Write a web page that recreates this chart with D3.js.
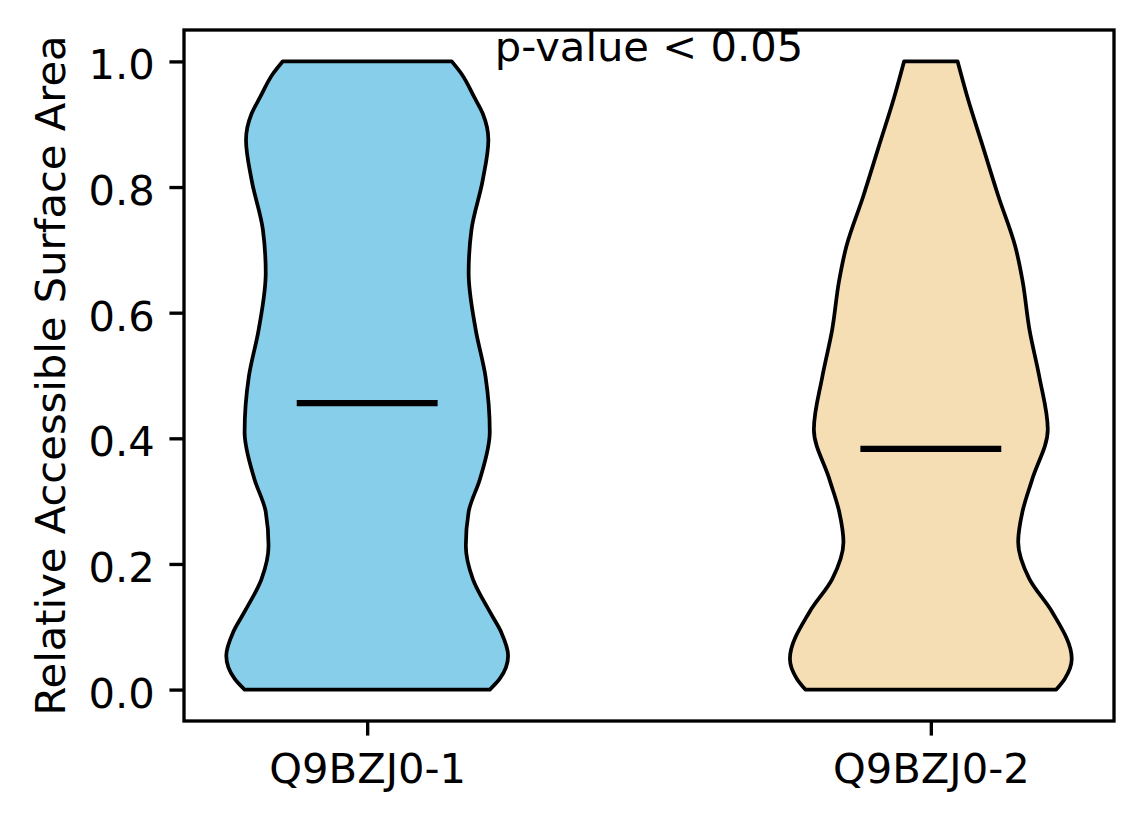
<!DOCTYPE html>
<html>
<head>
<meta charset="utf-8">
<script src="https://cdn.jsdelivr.net/npm/d3@7"></script>
<style>
  body { margin: 0; background: #fff; }
  text { font-family: "DejaVu Sans", sans-serif; }
</style>
</head>
<body>
<div id="chart"></div>
<script>
// groups and their fills
const groups = ["Q9BZJ0-1", "Q9BZJ0-2"];
const fills = ["#87CEEB", "#F5DEB3"];
const medians = [0.456, 0.383];

// density profiles (value, density scaled to max 1)
const kde1Values = [0.0, 0.017, 0.054, 0.092, 0.124, 0.176, 0.229, 0.283, 0.335, 0.410, 0.498, 0.573, 0.663, 0.732, 0.811, 0.875, 0.917, 0.943, 0.980, 1.0];
const kde1Density = [0.87, 0.94, 1.0, 0.95, 0.87, 0.75, 0.70, 0.72, 0.80, 0.87, 0.84, 0.77, 0.72, 0.74, 0.82, 0.86, 0.82, 0.76, 0.67, 0.60];
const kde2Values = [0.0, 0.017, 0.049, 0.124, 0.176, 0.235, 0.283, 0.335, 0.414, 0.498, 0.573, 0.652, 0.705, 0.785, 0.864, 0.943, 1.0];
const kde2Density = [0.89, 0.95, 1.0, 0.86, 0.70, 0.62, 0.65, 0.72, 0.83, 0.77, 0.70, 0.65, 0.60, 0.48, 0.37, 0.26, 0.19];

const yTicks = [0.0, 0.2, 0.4, 0.6, 0.8, 1.0];
const annotation = "p-value < 0.05";

const W = 1144, H = 824;
const margin = { top: 30, right: 30, bottom: 103, left: 184 };
const width = W - margin.left - margin.right,
      height = H - margin.top - margin.bottom;

const pt = 300 / 72; // figure was rendered at 300 dpi
const fontSize = 10 * pt;

const svg = d3.select("#chart")
  .append("svg")
  .attr("width", W)
  .attr("height", H)
  .append("g")
  .attr("transform", `translate(${margin.left},${margin.top})`);

const x = d3.scaleLinear().domain([0.675, 2.325]).range([0, width]);
const y = d3.scaleLinear().domain([-0.05, 1.05]).range([height, 0]);

const profiles = [
  kde1Values.map((v, i) => ({ v, d: kde1Density[i] })),
  kde2Values.map((v, i) => ({ v, d: kde2Density[i] }))
];

const halfWidth = 0.25;

profiles.forEach((prof, i) => {
  const pos = i + 1;
  const area = d3.area()
    .y(d => y(d.v))
    .x0(d => x(pos - halfWidth * d.d))
    .x1(d => x(pos + halfWidth * d.d))
    .curve(d3.curveMonotoneY);

  svg.append("path")
    .datum(prof)
    .attr("d", area)
    .attr("fill", fills[i])
    .attr("stroke", "#000")
    .attr("stroke-width", 0.9 * pt)
    .attr("stroke-linejoin", "round");

  svg.append("line")
    .attr("x1", x(pos - halfWidth / 2))
    .attr("x2", x(pos + halfWidth / 2))
    .attr("y1", y(medians[i]))
    .attr("y2", y(medians[i]))
    .attr("stroke", "#000")
    .attr("stroke-width", 1.5 * pt);
});

// axes
const xAxis = svg.append("g")
  .attr("transform", `translate(0,${height})`)
  .call(d3.axisBottom(x)
    .tickValues([1, 2])
    .tickFormat((d, i) => groups[i])
    .tickSize(3.5 * pt)
    .tickPadding(18)
    .tickSizeOuter(0));

const yAxis = svg.append("g")
  .call(d3.axisLeft(y)
    .tickValues(yTicks)
    .tickFormat(d3.format(".1f"))
    .tickSize(3.5 * pt)
    .tickPadding(3.5 * pt)
    .tickSizeOuter(0));

[xAxis, yAxis].forEach(g => {
  g.select(".domain").remove();
  g.selectAll(".tick line").attr("stroke", "#000").attr("stroke-width", 0.8 * pt);
  g.selectAll(".tick text")
    .attr("fill", "#000")
    .style("font-size", fontSize + "px")
    .style("font-family", "DejaVu Sans");
});
yAxis.selectAll(".tick text").attr("dy", "0.42em");

// frame
svg.append("rect")
  .attr("width", width)
  .attr("height", height)
  .attr("fill", "none")
  .attr("stroke", "#000")
  .attr("stroke-width", 0.8 * pt);

// y label
svg.append("text")
  .attr("transform", `translate(${65 - margin.left},${height / 2}) rotate(-90)`)
  .attr("text-anchor", "middle")
  .style("font-size", fontSize + "px")
  .text("Relative Accessible Surface Area");

// annotation
svg.append("text")
  .attr("x", x(1.5))
  .attr("y", y(1.0))
  .attr("text-anchor", "middle")
  .style("font-size", fontSize + "px")
  .text(annotation);
</script>
</body>
</html>
